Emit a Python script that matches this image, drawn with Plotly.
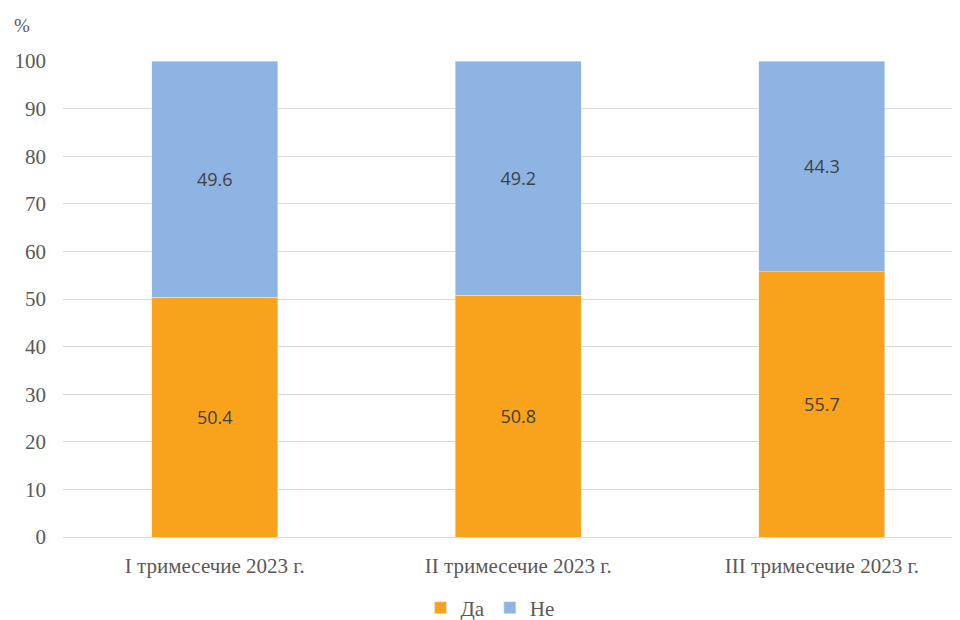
import plotly.graph_objects as go

categories = ["I тримесечие 2023 г.", "II тримесечие 2023 г.", "III тримесечие 2023 г."]
da_values = [50.4, 50.8, 55.7]
ne_values = [49.6, 49.2, 44.3]
y_ticks = [0, 10, 20, 30, 40, 50, 60, 70, 80, 90, 100]

fig = go.Figure()
fig.add_trace(go.Bar(
    x=[0, 1, 2], y=da_values, name="Да", marker_color="#F8A31B",
    text=[f"{v:.1f}" for v in da_values], textposition="inside",
    insidetextanchor="middle", width=0.415,
    textfont=dict(family="Open Sans", size=18, color="#404040"),
))
fig.add_trace(go.Bar(
    x=[0, 1, 2], y=ne_values, name="Не", marker_color="#8EB4E3",
    text=[f"{v:.1f}" for v in ne_values], textposition="inside",
    insidetextanchor="middle", width=0.415,
    textfont=dict(family="Open Sans", size=18, color="#404040"),
))

fig.update_layout(
    barmode="stack",
    width=960, height=620,
    margin=dict(l=55, r=8, t=53, b=91, autoexpand=False),
    plot_bgcolor="white", paper_bgcolor="white",
    showlegend=True,
    legend=dict(orientation="h", x=(490 - 63) / 897, xanchor="center",
                y=(537 - 608) / 476, yanchor="middle",
                font=dict(family="Liberation Serif", size=21, color="#595959"),
                itemwidth=30, traceorder="normal", tracegroupgap=0),
    xaxis=dict(range=[-0.5, 2.455], tickmode="array", tickvals=[0, 1, 2],
               ticktext=categories, showgrid=False, zeroline=False,
               showline=False, ticks="", ticklabelstandoff=14,
               tickfont=dict(family="Liberation Serif", size=21, color="#595959")),
    yaxis=dict(range=[0, 100], tickmode="array", tickvals=y_ticks,
               showgrid=True, gridcolor="#D9D9D9", gridwidth=1,
               zeroline=True, zerolinecolor="#D9D9D9", zerolinewidth=1,
               showline=False, ticks="", ticklabelstandoff=16,
               tickfont=dict(family="Liberation Serif", size=21, color="#595959")),
    annotations=[dict(text="%", x=(22 - 63) / 897, y=(537 - 25) / 476,
                      xref="paper", yref="paper", showarrow=False,
                      xanchor="center", yanchor="middle",
                      font=dict(family="Liberation Serif", size=19, color="#595959"))],
)

fig.write_html("out.html")
